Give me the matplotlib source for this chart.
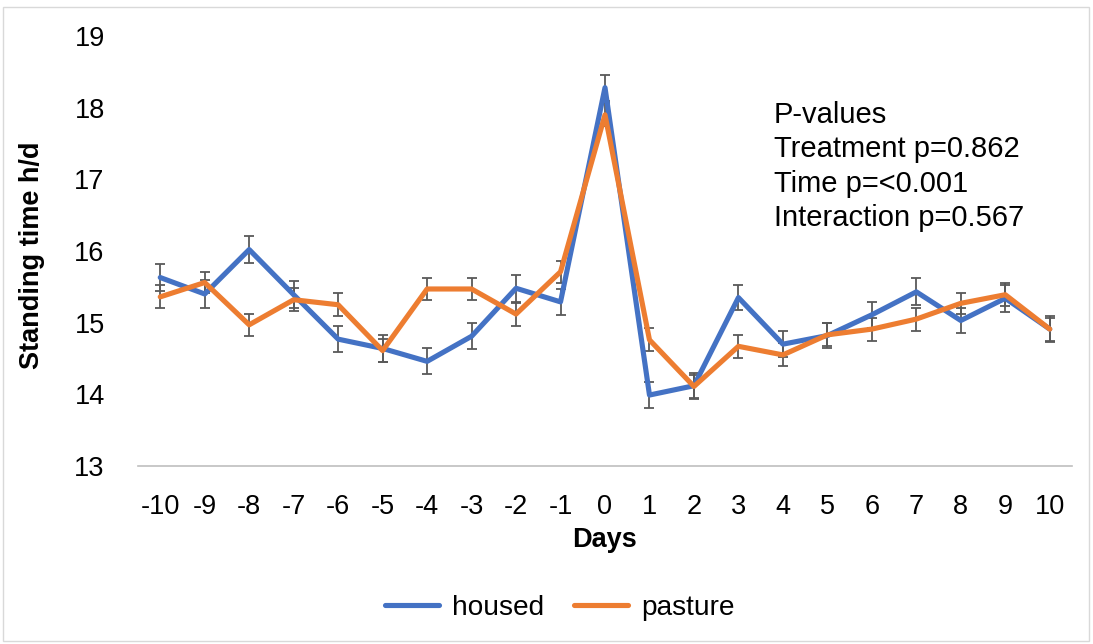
import matplotlib
matplotlib.use("Agg")
import matplotlib.pyplot as plt
from matplotlib.patches import Rectangle
from matplotlib.lines import Line2D

days = [-10, -9, -8, -7, -6, -5, -4, -3, -2, -1, 0, 1, 2, 3, 4, 5, 6, 7, 8, 9, 10]
housed = [15.63, 15.40, 16.02, 15.39, 14.77, 14.64, 14.46, 14.81, 15.48, 15.29, 18.28,
          13.99, 14.12, 15.35, 14.70, 14.82, 15.11, 15.43, 15.03, 15.34, 14.91]
housed_err = [0.19, 0.19, 0.19, 0.19, 0.18, 0.19, 0.18, 0.18, 0.19, 0.18, 0.18,
              0.18, 0.18, 0.18, 0.18, 0.18, 0.18, 0.19, 0.18, 0.19, 0.18]
pasture = [15.36, 15.56, 14.97, 15.32, 15.25, 14.61, 15.47, 15.47, 15.12, 15.71, 17.90,
           14.76, 14.11, 14.67, 14.55, 14.83, 14.91, 15.05, 15.27, 15.39, 14.91]
pasture_err = [0.16, 0.15, 0.15, 0.16, 0.16, 0.16, 0.16, 0.16, 0.16, 0.15, 0.16,
               0.16, 0.16, 0.16, 0.16, 0.16, 0.16, 0.16, 0.15, 0.16, 0.16]
yticks = [13, 14, 15, 16, 17, 18, 19]
annot = ["P-values", "Treatment p=0.862", "Time p=<0.001", "Interaction p=0.567"]

plt.rcParams['font.family'] = ['Liberation Sans', 'DejaVu Sans']
FS = 19.5
BLUE = "#4472C4"
ORANGE = "#ED7D31"
EC = "#595959"

fig = plt.figure(figsize=(10.93, 6.44), dpi=100)
fig.patches.append(Rectangle((3 / 1093, 3 / 644), 1086 / 1093, 634 / 644,
                             transform=fig.transFigure, fill=False,
                             edgecolor="#D9D9D9", linewidth=1.0))
ax = fig.add_axes([138 / 1093, 1 - 466 / 644, (1072 - 138) / 1093, (466 - 36) / 644])

x = list(range(len(days)))
ax.errorbar(x, housed, yerr=housed_err, fmt='none', ecolor=EC, elinewidth=1.3,
            capsize=3.6, capthick=1.3, zorder=2)
ax.errorbar(x, pasture, yerr=pasture_err, fmt='none', ecolor=EC, elinewidth=1.3,
            capsize=3.6, capthick=1.3, zorder=2)
ax.plot(x, housed, color=BLUE, linewidth=3.7, solid_joinstyle='round',
        solid_capstyle='round', zorder=3, label="housed")
ax.plot(x, pasture, color=ORANGE, linewidth=3.7, solid_joinstyle='round',
        solid_capstyle='round', zorder=4, label="pasture")

ax.set_xlim(-0.5, len(days) - 0.5)
ax.set_ylim(13, 19)
ax.set_yticks(yticks)
ax.set_yticklabels([str(v) for v in yticks], fontsize=FS)
ax.set_xticks(x)
ax.set_xticklabels([str(d) for d in days], fontsize=FS)
ax.tick_params(axis='y', length=0, pad=24)
ax.tick_params(axis='x', length=0, pad=20)
for s in ['top', 'right', 'left']:
    ax.spines[s].set_visible(False)
ax.spines['bottom'].set_color("#BFBFBF")
ax.spines['bottom'].set_linewidth(1.2)

fig.text(32 / 1093, 1 - 255 / 644, "Standing time h/d", rotation=90, fontsize=FS,
         fontweight='bold', ha='center', va='center')
fig.text(605 / 1093, 1 - 540 / 644, "Days", fontsize=FS, fontweight='bold',
         ha='center', va='center')

for i, t in enumerate(annot):
    fig.text(774 / 1093, 1 - (115 + 34.3 * i) / 644, t, fontsize=21, ha='left', va='center')

handles = [Line2D([0], [0], color=BLUE, lw=3.7, solid_capstyle='round'),
           Line2D([0], [0], color=ORANGE, lw=3.7, solid_capstyle='round')]
fig.legend(handles, ["housed", "pasture"], loc='center', bbox_to_anchor=(559.5 / 1093, 1 - 608 / 644),
           ncol=2, frameon=False, fontsize=20.2, handlelength=1.95, handletextpad=0.45,
           columnspacing=1.05)

fig.savefig("out.png", dpi=100)
